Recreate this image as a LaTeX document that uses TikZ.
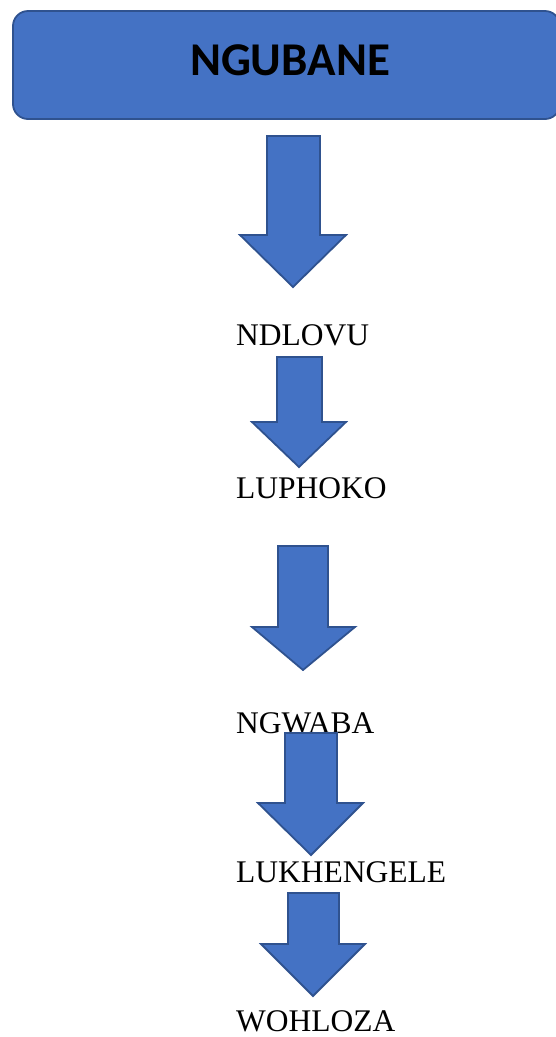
\documentclass[tikz,border=0pt]{standalone}
\usepackage{fontspec}
\setmainfont{Liberation Serif}
\newfontfamily\calfont{Carlito}
\definecolor{blfill}{HTML}{4472C4}
\definecolor{bledge}{HTML}{2F528F}
\tikzset{
  blk/.style={fill=blfill,draw=bledge,line width=1.8pt,line join=miter},
  lbl/.style={anchor=base west,inner sep=0pt,font=\fontsize{31.5}{36}\selectfont},
  topbox/.style={fill=blfill,draw=bledge,line width=1.8pt,rounded corners=15pt}
}
\begin{document}
\begin{tikzpicture}[x=1pt,y=-1pt]
\path[use as bounding box] (0,0) rectangle (556,1037);
\begin{scope}
\clip (0,0) rectangle (556,1037);
\draw[topbox] (13,11) rectangle (560,119);
\end{scope}
\node[anchor=base,inner sep=0pt,font=\calfont\bfseries\fontsize{47}{50}\selectfont] (top) at (290,75) {NGUBANE};
% arrow 1
\draw[blk] (267,136) -- (320,136) -- (320,235) -- (346,235) -- (293,287) -- (240,235) -- (267,235) -- cycle;
\node[lbl] (n1) at (236,345) {NDLOVU};
% arrow 2
\draw[blk] (277,357) -- (322,357) -- (322,422) -- (346,422) -- (299,467) -- (252,422) -- (277,422) -- cycle;
\node[lbl] (n2) at (236,498) {LUPHOKO};
% arrow 3
\draw[blk] (278,546) -- (328,546) -- (328,627) -- (355,627) -- (303,670) -- (252,627) -- (278,627) -- cycle;
\node[lbl] (n3) at (236,733) {NGWABA};
% arrow 4
\draw[blk] (285,733) -- (337,733) -- (337,803) -- (363,803) -- (311,855) -- (258,803) -- (285,803) -- cycle;
\node[lbl] (n4) at (236,882) {LUKHENGELE};
% arrow 5
\draw[blk] (288,893) -- (339,893) -- (339,944) -- (365,944) -- (313,996) -- (261,944) -- (288,944) -- cycle;
\node[lbl] (n5) at (236,1031) {WOHLOZA};
\end{tikzpicture}
\end{document}
